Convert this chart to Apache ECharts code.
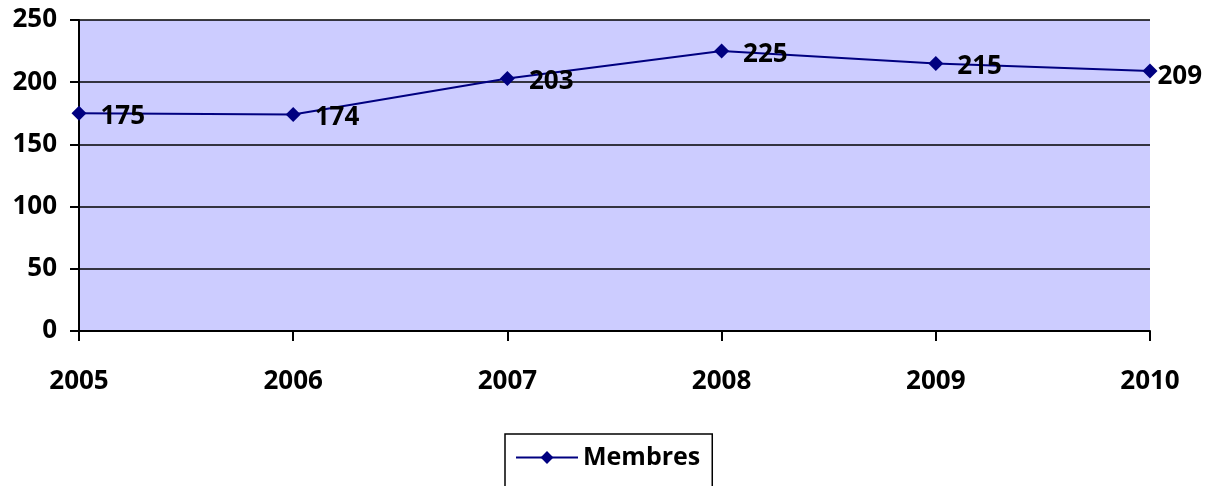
<!DOCTYPE html>
<html><head><meta charset="utf-8">
<script src="https://cdn.jsdelivr.net/npm/echarts@6/dist/echarts.min.js"></script>
<style>html,body{margin:0;padding:0;background:#fff}#c{width:1206px;height:486px}</style>
</head><body><div id="c"></div>
<script>
const categories = ['2005','2006','2007','2008','2009','2010'];
const membres = [175, 174, 203, 225, 215, 209];
const seriesName = 'Membres';
const yTicks = {min: 0, max: 250, interval: 50};

const font = '"Open Sans", Lato, sans-serif';
const fs = 26;
const chart = echarts.init(document.getElementById('c'), null, {renderer: 'canvas'});
chart.setOption({
  animation: false,
  textStyle: {fontFamily: font},
  grid: {left: 79, right: 56, top: 20, bottom: 155, show: true, backgroundColor: '#ccccff', borderWidth: 0},
  legend: {
    data: [seriesName], top: 434, left: 505,
    borderColor: '#000', borderWidth: 1.5, padding: [11, 12, 30, 10],
    itemWidth: 62, itemHeight: 16, itemGap: 10,
    textStyle: {fontFamily: font, fontWeight: 'bold', fontSize: 25, color: '#000'}
  },
  xAxis: {
    type: 'category', data: categories, boundaryGap: false,
    axisLine: {lineStyle: {color: '#000', width: 2}},
    axisTick: {show: true, length: 10, alignWithLabel: true, lineStyle: {color: '#000', width: 2}},
    axisLabel: {margin: 38, color: '#000', fontFamily: font, fontWeight: 'bold', fontSize: fs},
    splitLine: {show: false}
  },
  yAxis: {
    type: 'value', min: yTicks.min, max: yTicks.max, interval: yTicks.interval,
    axisLine: {show: true, lineStyle: {color: '#000', width: 2}},
    axisTick: {show: true, length: 9, lineStyle: {color: '#000', width: 2}},
    axisLabel: {margin: 22, color: '#000', fontFamily: font, fontWeight: 'bold', fontSize: fs},
    splitLine: {show: true, lineStyle: {color: '#000', width: 1.5}}
  },
  series: [{
    name: seriesName, type: 'line', data: membres.map((v, i) => ({
      value: v,
      label: i === membres.length - 1 ? {distance: 0, offset: [0, 6]} : {}
    })),
    symbol: 'diamond', symbolSize: 15,
    lineStyle: {color: '#000080', width: 2},
    itemStyle: {color: '#000080'},
    label: {show: true, position: 'right', distance: 14, offset: [0, 3],
      color: '#000', fontFamily: font, fontWeight: 'bold', fontSize: fs}
  }]
});
</script></body></html>
